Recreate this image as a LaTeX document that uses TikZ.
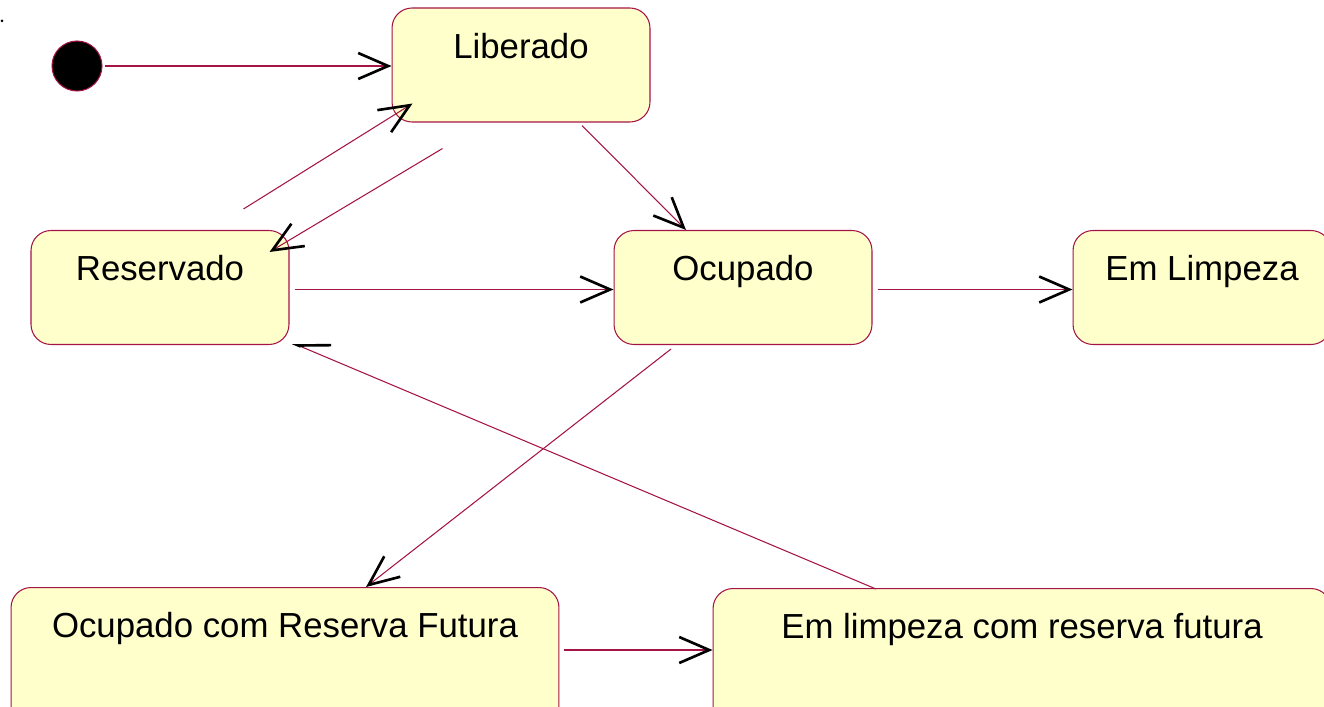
\documentclass[tikz,border=0pt]{standalone}
\usepackage{fontspec}
\setmainfont{Liberation Sans}
\usetikzlibrary{arrows.meta}
\definecolor{umlred}{RGB}{165, 20, 70}
\definecolor{umlfill}{RGB}{255, 255, 204}

\begin{document}
\begin{tikzpicture}[
  x=0.02cm, y=-0.02cm,
  every node/.style={font=\fontsize{19.8}{24}\selectfont},
  estado/.style={draw=umlred, fill=umlfill, line width=0.6pt, rounded corners=0.4cm, inner sep=0pt, minimum width=5.16cm, text height=1.0cm, text depth=1.28cm},
  inicio/.style={circle, draw=umlred, fill=black, line width=0.6pt, inner sep=0pt, minimum size=1cm},
  trans/.style={-{Straight Barb[length=0.6cm, width=0.52cm, line width=1.5pt, color=black]}, umlred, line width=0.6pt},
  meia/.style={-{Straight Barb[length=0.6cm, width=0.52cm, line width=1.5pt, color=black, right]}, umlred, line width=0.6pt}
]
  \useasboundingbox (0,0) rectangle (1324,706);
  \clip (0,0) rectangle (1324,706);

  % Start
  \node[circle, fill=black, inner sep=0pt, minimum size=0.06cm] (ponto) at (2,21) {};
  \node[inicio] (init) at (77,66) {};

  % States
  \node[estado] (lib)  at (521,65)    {Liberado};
  \node[estado] (res)  at (160,287.5) {Reservado};
  \node[estado] (ocup) at (743,287.5) {Ocupado};
  \node[estado] (limp) at (1202,287.5) {Em Limpeza};
  \node[estado, anchor=north, minimum width=10.96cm, text depth=1.8cm] (ocrf) at (285,587) {Ocupado com Reserva Futura};
  \node[estado, anchor=north, minimum width=12.36cm, text depth=1.8cm] (lcrf) at (1022,588) {Em limpeza com reserva futura};

  % Transitions
  \draw[trans, shorten <=1.5pt] (init) -- (lib.west |- init);
  \draw[trans] ([shift={(-46,-21)}]res.north east) -- ([shift={(21,-19)}]lib.south west);
  \draw[trans] ([shift={(51,26)}]lib.south west) -- ([shift={(-20,22)}]res.north east);
  \draw[trans] ([shift={(61,3)}]lib.south) -- ([shift={(-57,0)}]ocup.north);
  \draw[trans] ([shift={(5,2)}]res.east) -- ([shift={(0,2)}]ocup.west);
  \draw[trans] ([shift={(5,2)}]ocup.east) -- ([shift={(0,2)}]limp.west);
  \draw[trans] ([shift={(-72,4)}]ocup.south) -- ([shift={(81,0)}]ocrf.north);
  \draw[trans] ([shift={(5,0)}]ocrf.east |- 0,650) -- (lcrf.west |- 0,650);
  \draw[meia] ([shift={(-146,1)}]lcrf.north) -- ([shift={(3,-2)}]res.south east);
\end{tikzpicture}
\end{document}
